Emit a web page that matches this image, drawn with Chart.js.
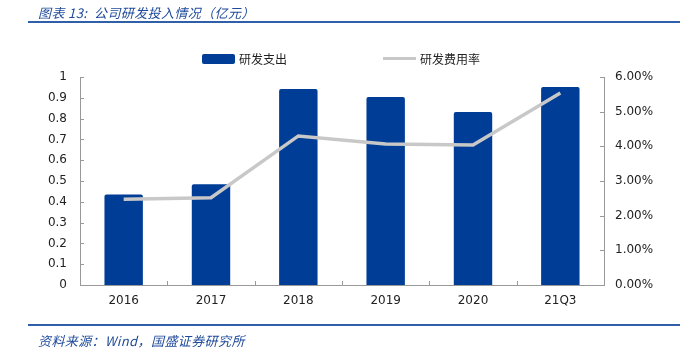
<!DOCTYPE html>
<html>
<head>
<meta charset="utf-8">
<script src="https://cdn.jsdelivr.net/npm/chart.js@4"></script>
<style>
  body { margin: 0; background: #fff; }
  #wrap { position: relative; width: 680px; height: 359px; overflow: hidden; }
  #chart { position: absolute; left: 0; top: 0; }
  .cap { position: absolute; left: 38px; font-family: "Noto Sans CJK SC", sans-serif; font-style: italic; color: #1e4a9a; font-size: 13px; white-space: nowrap; letter-spacing: 0.4px; }
  .rule { position: absolute; left: 28px; right: 0; height: 2px; background: #2f5fa8; }
  .leg { position: absolute; top: 50px; font-family: "Noto Sans CJK SC", sans-serif; font-size: 12px; color: #222; display: flex; align-items: center; }
  .sw { display: inline-block; margin-right: 4px; }
</style>
</head>
<body>
<div id="wrap">
  <canvas id="chart" width="680" height="359"></canvas>
  <div class="cap" style="top:3px;">图表 13:&nbsp; 公司研发投入情况（亿元）</div>
  <div class="rule" style="top:21px;"></div>
  <div class="leg" style="left:202px;"><span class="sw" style="width:33px;height:10px;background:#003d96;border-radius:2px;"></span>研发支出</div>
  <div class="leg" style="left:383px;"><span class="sw" style="width:33px;height:3px;background:#c8c8c8;"></span>研发费用率</div>
  <div class="rule" style="top:324px;"></div>
  <div class="cap" style="top:331px;">资料来源：Wind，国盛证券研究所</div>
</div>
<script>
const categories = ['2016', '2017', '2018', '2019', '2020', '21Q3'];
const rdSpend = [0.435, 0.484, 0.942, 0.904, 0.832, 0.952];
const rdRate = [2.47, 2.52, 4.30, 4.07, 4.04, 5.54];

// ticks drawn inside the plot, as in the reference
const innerTicks = {
    id: 'innerTicks',
    afterDraw(chart) {
        const ctx = chart.ctx;
        const { y, y1, x } = chart.scales;
        ctx.save();
        ctx.strokeStyle = '#999';
        ctx.lineWidth = 1;
        ctx.beginPath();
        y.ticks.forEach(t => {
            const py = Math.round(y.getPixelForValue(t.value)) + 0.5;
            ctx.moveTo(y.right, py); ctx.lineTo(y.right + 4, py);
        });
        y1.ticks.forEach(t => {
            const py = Math.round(y1.getPixelForValue(t.value)) + 0.5;
            ctx.moveTo(y1.left - 4, py); ctx.lineTo(y1.left, py);
        });
        for (let i = 1; i < categories.length; i++) {
            const px = Math.round((x.getPixelForValue(i - 1) + x.getPixelForValue(i)) / 2) + 0.5;
            ctx.moveTo(px, x.top); ctx.lineTo(px, x.top - 4);
        }
        ctx.stroke();
        ctx.restore();
    }
};

const tickFont = { family: 'DejaVu Sans', size: 12 };

new Chart(document.getElementById('chart'), {
    data: {
        labels: categories,
        datasets: [
            { type: 'line', label: '研发费用率', data: rdRate, yAxisID: 'y1', borderColor: '#c8c8c8', borderWidth: 3.5, pointRadius: 0, tension: 0, order: 0 },
            { type: 'bar', label: '研发支出', data: rdSpend, yAxisID: 'y', backgroundColor: '#003d96', borderRadius: 2, categoryPercentage: 0.44, barPercentage: 1, order: 1 }
        ]
    },
    options: {
        responsive: false,
        animation: false,
        layout: { padding: { top: 77 } },
        plugins: { legend: { display: false }, tooltip: { enabled: false } },
        scales: {
            x: {
                grid: { display: false, drawTicks: false },
                border: { color: '#999' },
                ticks: { color: '#222', font: tickFont, padding: 9 },
                afterFit: s => { s.height = 74; }
            },
            y: {
                position: 'left', min: 0, max: 1,
                grid: { display: false, drawTicks: false },
                border: { color: '#999' },
                ticks: { stepSize: 0.1, color: '#222', font: tickFont, padding: 13, callback: v => String(+v.toFixed(1)) },
                afterFit: s => { s.width = 80; }
            },
            y1: {
                position: 'right', min: 0, max: 6,
                grid: { display: false, drawTicks: false },
                border: { color: '#999' },
                ticks: { stepSize: 1, color: '#222', font: tickFont, padding: 11, callback: v => v.toFixed(2) + '%' },
                afterFit: s => { s.width = 76; }
            }
        }
    },
    plugins: [innerTicks]
});
</script>
</body>
</html>
